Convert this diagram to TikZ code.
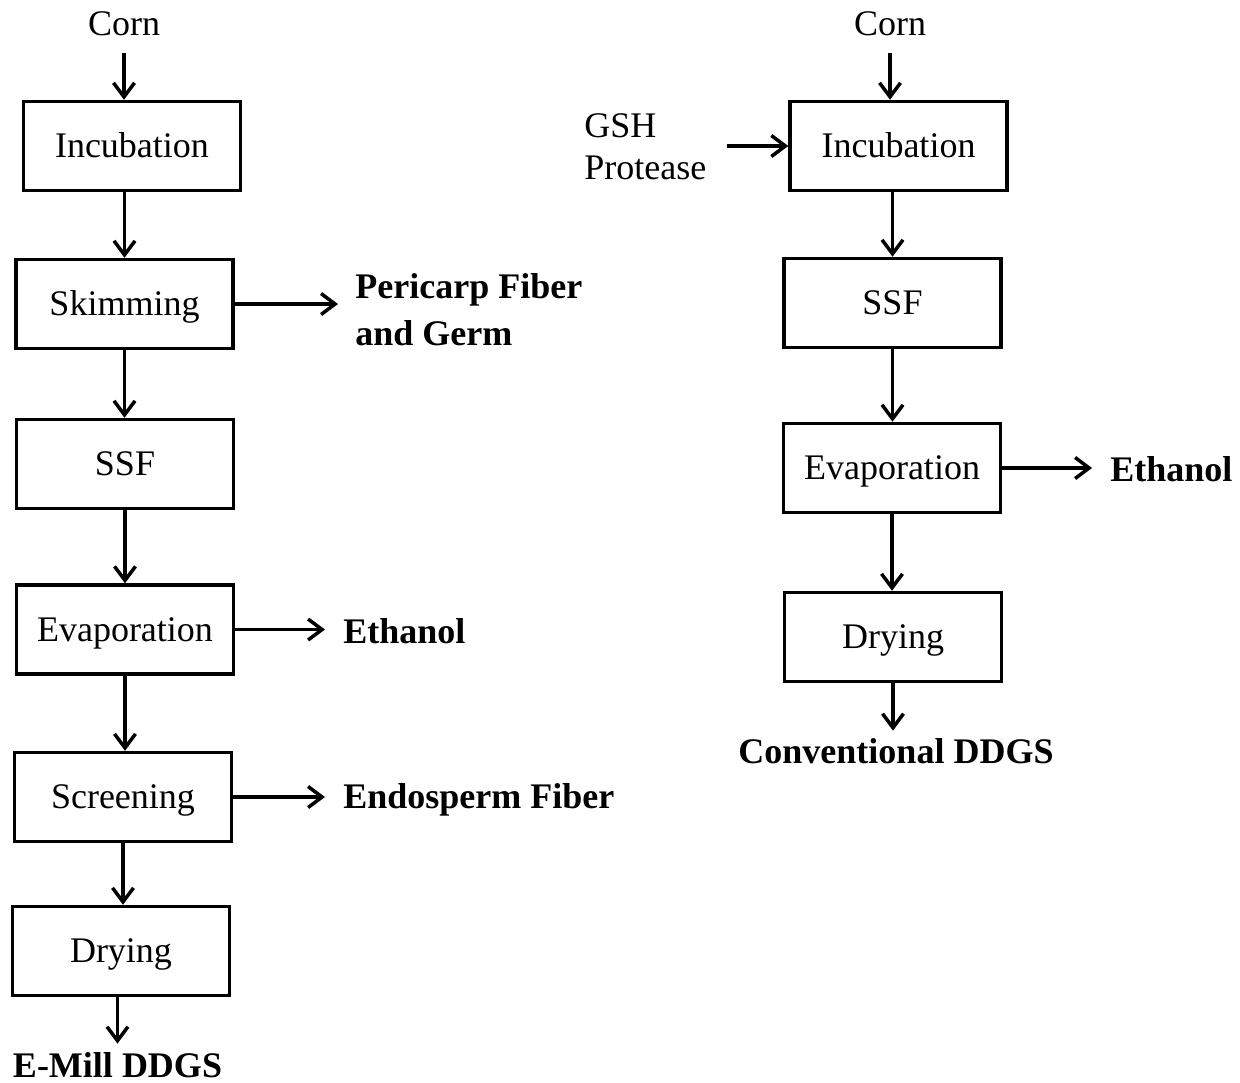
\documentclass[tikz,border=0pt]{standalone}
\usepackage{fontspec}
\setmainfont{Liberation Serif}
\usetikzlibrary{arrows.meta}

\begin{document}
\begin{tikzpicture}[x=0.5pt,y=-0.5pt,>={Straight Barb[length=7pt,width=10.5pt]},
 every node/.style={font=\fontsize{18pt}{21pt}\selectfont}, box/.style={draw,
 line width=1.75pt,minimum width=108.5pt,minimum height=44.5pt,inner sep=0pt,
 text height=11.9pt,text depth=0pt},
 lbl/.style={inner sep=0pt}, outlbl/.style={inner sep=0pt,
 font=\fontsize{18pt}{23.5pt}\selectfont\bfseries}, flow/.style={->,line width=1.75pt}]
\useasboundingbox (0,0) rectangle (1240,1082);
% E-Mill process
\node[lbl,anchor=base] (cornL) at (124,35) {Corn};
\node[box] (incL) at (132,146) {Incubation};
\node[box] (skimL) at (124.5,304) {Skimming};
\node[box] (ssfL) at (125,464) {SSF};
\node[box] (evapL) at (125,629.5) {Evaporation};
\node[box] (scrL) at (123,797) {Screening};
\node[box] (dryL) at (121,951) {Drying};
\node[outlbl,anchor=west,align=left] (peri) at (355,309.5) {Pericarp Fiber\\and Germ};
\node[outlbl,anchor=base west] (ethL) at (343,643) {Ethanol};
\node[outlbl,anchor=base west] (endo) at (343,808) {Endosperm Fiber};
\node[outlbl,anchor=base] (outL) at (117.5,1077) {E-Mill DDGS};
\draw[flow,shorten <=8.5pt] (cornL.south)--(cornL.south |- incL.north);
\draw[flow] (skimL.north |- incL.south)--(skimL.north);
\draw[flow] (skimL.south)--(skimL.south |- ssfL.north);
\draw[flow] (ssfL.south)--(ssfL.south |- evapL.north);
\draw[flow] (evapL.south)--(evapL.south |- scrL.north);
\draw[flow] (scrL.south)--(scrL.south |- dryL.north);
\draw[flow,shorten >=4pt] (outL.north |- dryL.south)--(outL.north);
\draw[flow,shorten >=8.5pt] (skimL.east)--(skimL.east -| peri.west);
\draw[flow,shorten >=9pt] (evapL.east)--(evapL.east -| ethL.west);
\draw[flow,shorten >=9pt] (scrL.east)--(scrL.east -| endo.west);
% conventional process
\node[lbl,anchor=base] (cornR) at (890,35) {Corn};
\node[lbl,anchor=west,align=left] (gsh) at (584,147) {GSH\\Protease};
\node[box] (incR) at (898.5,146) {Incubation};
\node[box] (ssfR) at (892.5,303) {SSF};
\node[box] (evapR) at (892,468) {Evaporation};
\node[box] (dryR) at (893,637) {Drying};
\node[outlbl,anchor=base west] (ethR) at (1110,481) {Ethanol};
\node[outlbl,anchor=base] (outR) at (896,763) {Conventional DDGS};
\draw[flow,shorten <=8.5pt] (cornR.south)--(cornR.south |- incR.north);
\draw[flow,shorten <=10pt] (gsh.east |- incR.west)--(incR.west);
\draw[flow] (ssfR.north |- incR.south)--(ssfR.north);
\draw[flow] (ssfR.south)--(ssfR.south |- evapR.north);
\draw[flow] (evapR.south)--(evapR.south |- dryR.north);
\draw[flow,shorten >=3.5pt] (dryR.south)--(dryR.south |- outR.north);
\draw[flow,shorten >=9pt] (evapR.east)--(evapR.east -| ethR.west);
\end{tikzpicture}
\end{document}
